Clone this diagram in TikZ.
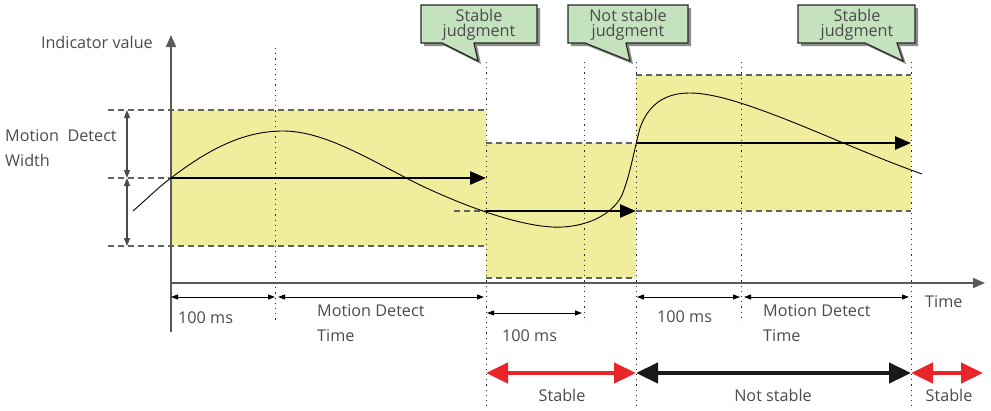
\documentclass[tikz,border=0pt]{standalone}
\usepackage{fontspec}
\setmainfont{Open Sans}
\usetikzlibrary{arrows.meta}
\definecolor{yfillc}{RGB}{240,237,156}
\definecolor{gfillc}{RGB}{197,226,190}
\definecolor{redc}{RGB}{232,38,42}
\definecolor{txtc}{RGB}{75,75,75}
\begin{document}
\begin{tikzpicture}[x=1pt,y=-1pt,
  txt/.style={text=txtc, font=\fontsize{16.2}{18}\selectfont, inner sep=0pt},
  ydash/.style={draw=black!62, line width=1.4pt, dash pattern=on 6pt off 4pt},
  vdot/.style={draw=black!85, line width=1pt, dash pattern=on 1.2pt off 4pt},
  fat/.style={line width=2.6pt, -{Triangle[length=16pt,width=13pt]}},
  dimar/.style={line width=0.9pt, {Triangle[length=7pt,width=5pt]}-{Triangle[length=7pt,width=5pt]}},
  vdim/.style={draw=black!70, line width=1.3pt, {Triangle[length=8pt,width=6pt]}-{Triangle[length=8pt,width=6pt]}},
  bigred/.style={draw=redc, line width=4.5pt, {Triangle[length=22pt,width=20pt]}-{Triangle[length=22pt,width=20pt]}},
  bigblk/.style={draw=black!90, line width=4.5pt, {Triangle[length=22pt,width=20pt]}-{Triangle[length=22pt,width=20pt]}},
  axisl/.style={draw=black!65, line width=1.5pt},
  bubble/.style={fill=gfillc, draw=black!85, line width=1.2pt},
  bshadow/.style={fill=black!45}
]
\useasboundingbox (0,0) rectangle (991,410);

% yellow zones
\fill[yfillc] (171,110) rectangle (486,246);
\fill[yfillc] (486,143) rectangle (636,278);
\fill[yfillc] (636,75) rectangle (911,211);

% dotted verticals
\coordinate (d1t) at (275,48);  \coordinate (d1b) at (275,322);
\coordinate (d2t) at (486,62);  \coordinate (d2b) at (486,410);
\coordinate (d3t) at (584,62);  \coordinate (d3b) at (584,322);
\coordinate (d4t) at (636,62);  \coordinate (d4b) at (636,410);
\coordinate (d5t) at (741,62);  \coordinate (d5b) at (741,322);
\coordinate (d6t) at (911,62);  \coordinate (d6b) at (911,410);
\foreach \i in {1,...,6} \draw[vdot] (d\i t) -- (d\i b);

% dashed horizontals
\draw[ydash] (108,110) -- (486,110);
\draw[ydash] (108,178) -- (171,178);
\draw[ydash] (108,246) -- (486,246);
\draw[ydash] (486,143) -- (636,143);
\draw[ydash] (486,278) -- (636,278);
\draw[ydash] (454,211) -- (486,211);
\draw[ydash] (636,75) -- (911,75);
\draw[ydash] (636,211) -- (911,211);

% axes
\coordinate (yb) at (171,332); \coordinate (yt) at (171,35);
\coordinate (xl) at (171,283); \coordinate (xr) at (985,283);
\draw[axisl, -{Triangle[length=12pt,width=10pt]}] (yb) -- (yt);
\draw[axisl, -{Triangle[length=12pt,width=10pt]}] (xl) -- (xr);

% signal curve
\draw[line width=0.9pt] (133,211) .. controls (150,196) and (160,186) .. (171,178)
  .. controls (210,148) and (245,131) .. (283,131)
  .. controls (325,131) and (370,160) .. (420,185)
  .. controls (475,211) and (530,229) .. (563,227)
  .. controls (595,225) and (615,210) .. (622,195)
  .. controls (630,175) and (633,155) .. (640,128)
  .. controls (650,100) and (670,93) .. (690,93)
  .. controls (740,93) and (840,145) .. (922,174);

% thick arrows
\coordinate (a1s) at (171,178); \coordinate (a1e) at (486,178);
\coordinate (a2s) at (486,211); \coordinate (a2e) at (636,211);
\coordinate (a3s) at (636,143); \coordinate (a3e) at (911,143);
\draw[fat] (a1s) -- (a1e);
\draw[fat] (a2s) -- (a2e);
\draw[fat] (a3s) -- (a3e);

% width arrows
\coordinate (w1) at (127,110); \coordinate (w2) at (127,178); \coordinate (w3) at (127,246);
\draw[vdim] (w1) -- (w2);
\draw[vdim] (w2) -- (w3);

% bubbles
\foreach \xa/\xb/\tl/\tip/\tr in {421/537/442/478/474, 568/688/585/630/626, 798/915/865/903/897}{
  \fill[bshadow] ([shift={(3,3)}]\xa,5) -- ([shift={(3,3)}]\xb,5) -- ([shift={(3,3)}]\xb,43) -- ([shift={(3,3)}]\tr,43) -- ([shift={(3,3)}]\tip,61) -- ([shift={(3,3)}]\tl,43) -- ([shift={(3,3)}]\xa,43) -- cycle;
  \draw[bubble] (\xa,5) -- (\xb,5) -- (\xb,43) -- (\tr,43) -- (\tip,61) -- (\tl,43) -- (\xa,43) -- cycle;
}
\node[txt] (b1a) at (479,15) {Stable};
\node[txt] (b1b) at (479,32) {judgment};
\node[txt] (b2a) at (628,15) {Not stable};
\node[txt] (b2b) at (628,32) {judgment};
\node[txt] (b3a) at (857,15) {Stable};
\node[txt] (b3b) at (857,32) {judgment};

% left labels
\node[txt, anchor=east] (iv) at (153,42) {Indicator value};
\node[txt, anchor=west] (mdw1) at (5,136) {Motion\ \ Detect};
\node[txt, anchor=west] (mdw2) at (5,160) {Width};
\node[txt, anchor=west] (tm) at (925,302) {Time};

% bottom dimension arrows
\coordinate (t0) at (171,297); \coordinate (t1) at (275,297);
\coordinate (t1b) at (278,297); \coordinate (t2) at (484,297);
\coordinate (u0) at (487,313); \coordinate (u1) at (582,313);
\coordinate (v0) at (637,297); \coordinate (v1) at (740,297);
\coordinate (v1b) at (744,297); \coordinate (v2) at (909,297);
\draw[dimar] (t0) -- (t1);
\draw[dimar] (t1b) -- (t2);
\draw[dimar] (u0) -- (u1);
\draw[dimar] (v0) -- (v1);
\draw[dimar] (v1b) -- (v2);

\node[txt, anchor=west] (l1) at (178,318) {100 ms};
\node[txt, anchor=west] (l2a) at (317,311) {Motion Detect};
\node[txt, anchor=west] (l2b) at (317,336) {Time};
\node[txt, anchor=west] (l3) at (502,336) {100 ms};
\node[txt, anchor=west] (l4) at (657,317) {100 ms};
\node[txt, anchor=west] (l5a) at (763,311) {Motion Detect};
\node[txt, anchor=west] (l5b) at (763,336) {Time};

% stability arrows
\coordinate (s0) at (486,373); \coordinate (s1) at (636,373);
\coordinate (s2) at (911,373); \coordinate (s3) at (983,373);
\draw[bigred] (s0) -- (s1);
\draw[bigblk] (s1) -- (s2);
\draw[bigred] (s2) -- (s3);
\node[txt] (st1) at (562,395) {Stable};
\node[txt] (st2) at (773,395) {Not stable};
\node[txt] (st3) at (949,395) {Stable};
\end{tikzpicture}
\end{document}
